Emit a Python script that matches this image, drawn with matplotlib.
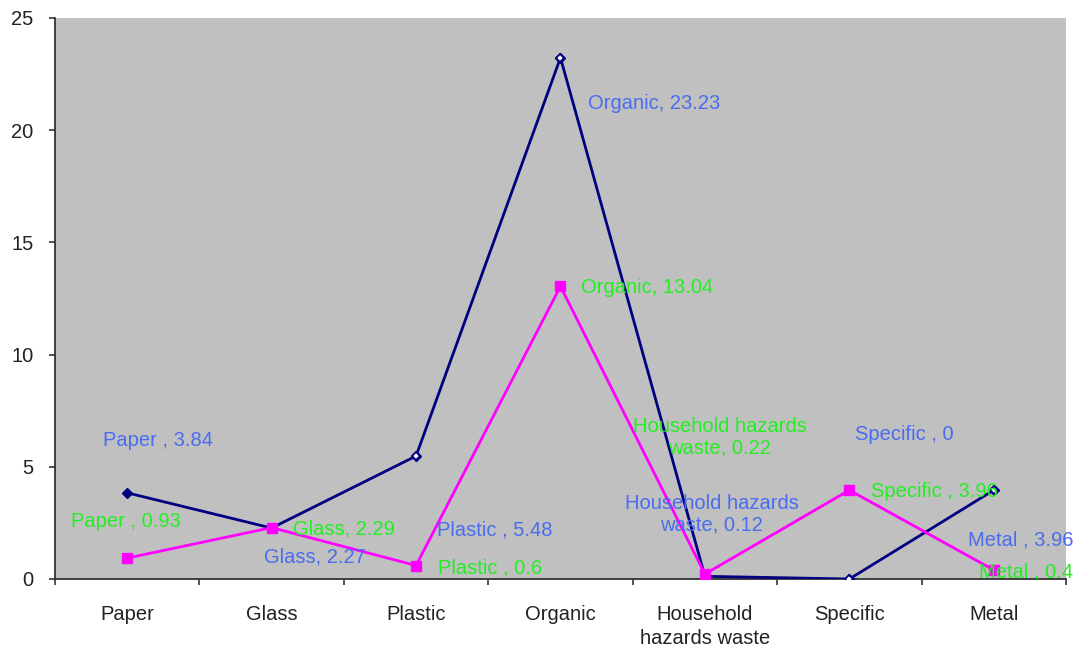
import matplotlib
matplotlib.use("Agg")
import matplotlib.pyplot as plt

plt.rcParams['font.family'] = ['Liberation Sans', 'DejaVu Sans']

categories = ["Paper", "Glass", "Plastic", "Organic",
              "Household\nhazards waste", "Specific", "Metal"]

series_a = [3.84, 2.27, 5.48, 23.23, 0.12, 0.0, 3.96]
series_b = [0.93, 2.29, 0.6, 13.04, 0.22, 3.96, 0.4]

labels_a = ["Paper , 3.84", "Glass, 2.27", "Plastic , 5.48", "Organic, 23.23",
            "Household hazards\nwaste, 0.12", "Specific , 0", "Metal , 3.96"]
labels_b = ["Paper , 0.93", "Glass, 2.29", "Plastic , 0.6", "Organic, 13.04",
            "Household hazards\nwaste, 0.22", "Specific , 3.96", "Metal , 0.4"]

yticks = [0, 5, 10, 15, 20, 25]

# label offsets in pixels (dx, dy, ha)
offsets_a = [(31, 52, 'center'), (43, -29, 'center'), (21, -74, 'left'),
             (28, -46, 'left'), (7, 62, 'center'), (6, 144, 'left'),
             (-26, -50, 'left')]
offsets_b = [(-56, 37, 'left'), (21, -1, 'left'), (22, -2, 'left'),
             (21, -1, 'left'), (15, 137, 'center'), (22, -1, 'left'),
             (-15, -2, 'left')]

fig = plt.figure(figsize=(10.82, 6.51), dpi=100)
ax = fig.add_axes([0.0508, 0.1106, 0.9344, 0.8618])
ax.set_facecolor('#C0C0C0')

x = list(range(len(categories)))

ax.plot(x, series_a, color='#000080', linewidth=2.0, marker='D',
        markersize=5, markerfacecolor='#000080', markeredgecolor='#000080',
        zorder=3)
# hollow diamonds on some of the points
ax.plot(x, series_a, linestyle='none', marker='D', markersize=4.5,
        markerfacecolor='white', markeredgecolor='#000080',
        markeredgewidth=1.3, markevery=[2, 3, 5, 6], zorder=4)
ax.plot(x, series_b, color='#FF00FF', linewidth=2.0, marker='s',
        markersize=7, markerfacecolor='#FF00FF', markeredgecolor='#FF00FF',
        zorder=3)

for i, (v, lab, (dx, dy, ha)) in enumerate(zip(series_a, labels_a, offsets_a)):
    ax.annotate(lab, xy=(i, v), xytext=(dx, dy), textcoords='offset pixels',
                ha=ha, va='center', color='#4A6CF0', fontsize=14.5,
                multialignment='center', annotation_clip=False, zorder=5)
for i, (v, lab, (dx, dy, ha)) in enumerate(zip(series_b, labels_b, offsets_b)):
    ax.annotate(lab, xy=(i, v), xytext=(dx, dy), textcoords='offset pixels',
                ha=ha, va='center', color='#22EE22', fontsize=14.5,
                multialignment='center', annotation_clip=False, zorder=5)

ax.set_xlim(-0.5, len(categories) - 0.5)
ax.set_ylim(0, 25)
ax.set_yticks(yticks)
ax.set_yticklabels([str(t) for t in yticks])

# category boundaries as major ticks, names on minor ticks
ax.set_xticks([i - 0.5 for i in range(len(categories) + 1)])
ax.set_xticklabels([])
ax.set_xticks(x, minor=True)
ax.set_xticklabels(categories, minor=True, linespacing=1.3)

ax.tick_params(axis='x', which='major', direction='out', length=4,
               width=1.2, color='#333333')
ax.tick_params(axis='x', which='minor', length=0, pad=19, labelsize=14.5,
               colors='#222222')
ax.tick_params(axis='y', direction='out', length=4.3, width=1.2,
               color='#333333', pad=11, labelsize=14.5, labelcolor='#222222')

for side in ['top', 'right']:
    ax.spines[side].set_visible(False)
for side in ['left', 'bottom']:
    ax.spines[side].set_color('#333333')
    ax.spines[side].set_linewidth(1.3)

fig.savefig('out.png', dpi=100)
